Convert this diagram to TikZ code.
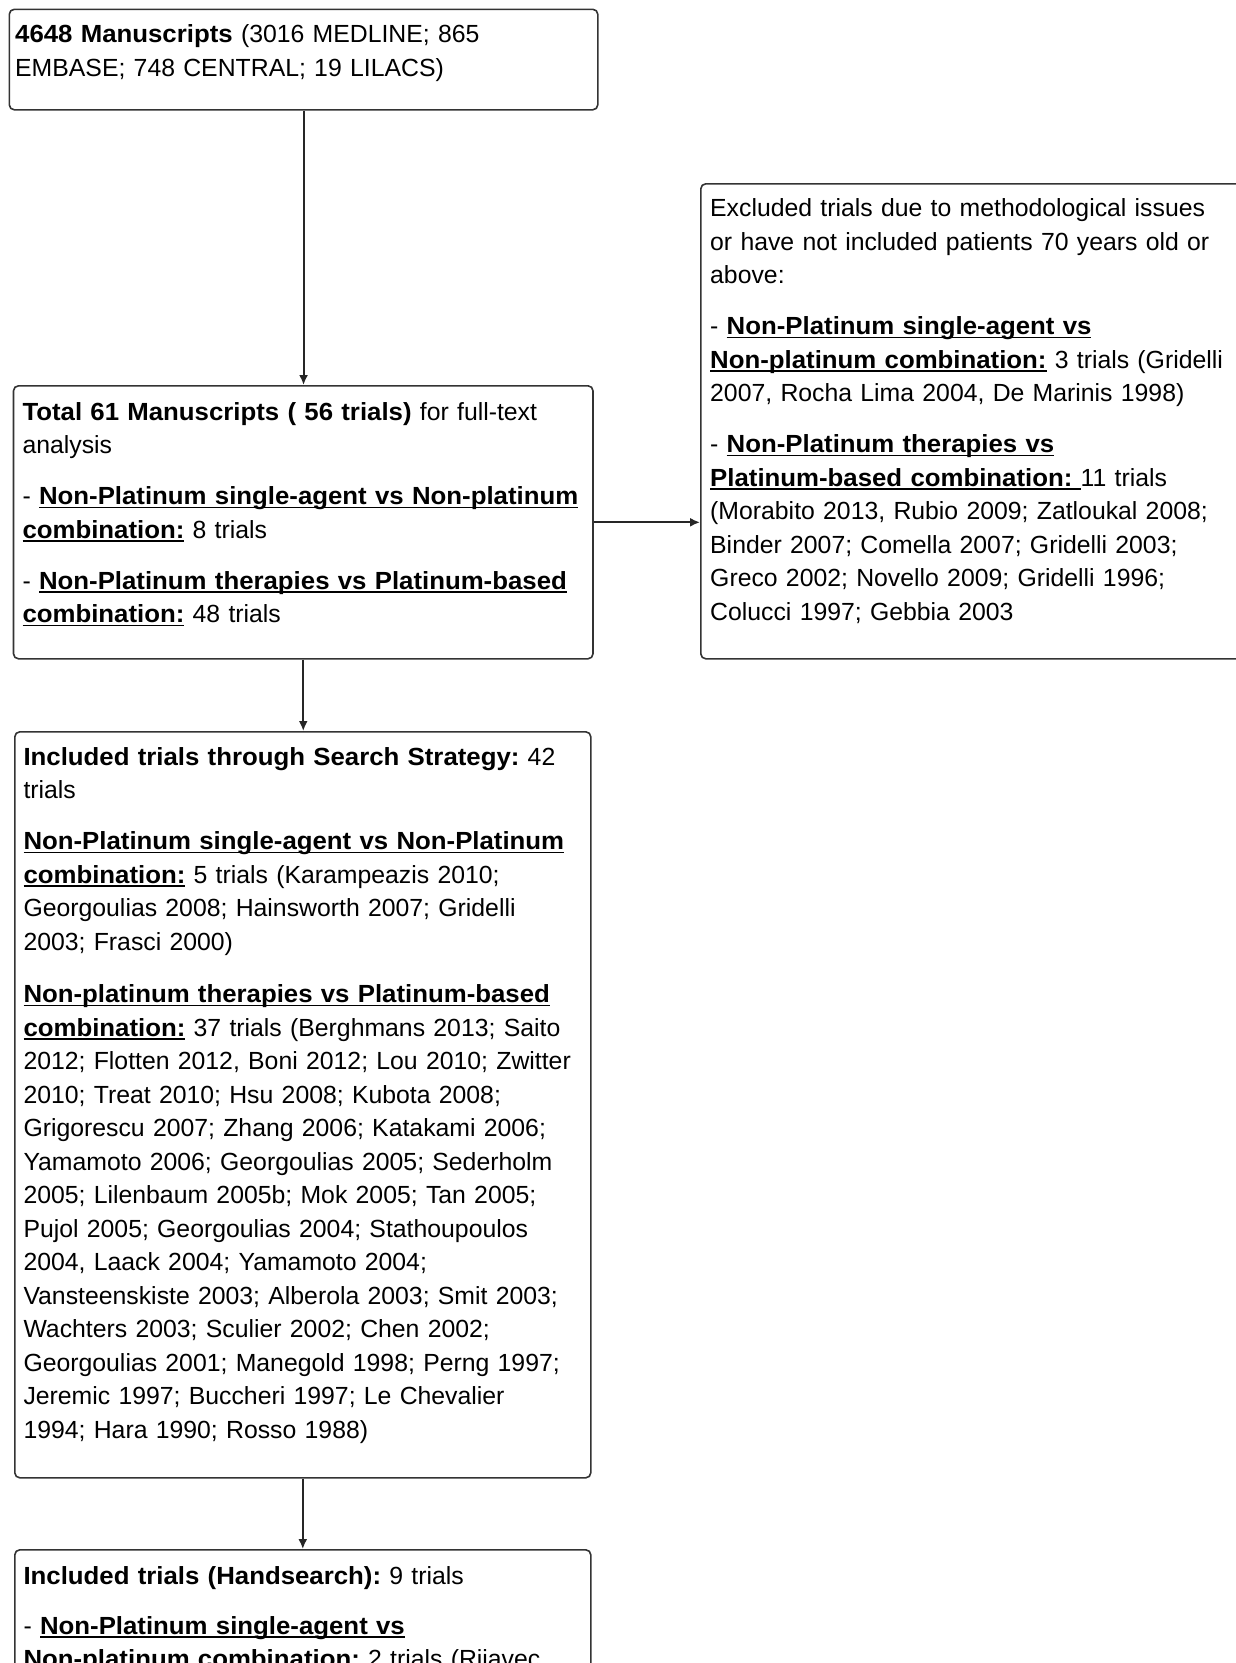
\documentclass[tikz,border=0pt]{standalone}
\usepackage{fontspec}
\setmainfont{Liberation Sans}[BoldFeatures={FakeStretch=1.04}]
\usetikzlibrary{arrows.meta}
\frenchspacing
\newsavebox\ulbbox
\newcommand\ulb[1]{\leavevmode\sbox\ulbbox{\bfseries #1}\rlap{\rule[-3.5pt]{\wd\ulbbox}{1.5pt}}\usebox\ulbbox}
\begin{document}
\begin{tikzpicture}[x=1pt,y=-1pt,
  box/.style={draw=black!80, line width=1.6pt, rounded corners=5pt, inner sep=0pt, anchor=north west},
  txt/.style={anchor=base west, inner sep=0pt, align=left, text width=620pt, font=\frenchspacing\fontsize{24.8}{33.5}\selectfont, text=black},
  arr/.style={draw=black!85, line width=1.9pt, -{Latex[length=10pt,width=9pt]}}]
\useasboundingbox (0,0) rectangle (1236,1663);
% boxes
\node[box, minimum width=588.5pt, minimum height=100.5pt] (b1) at (8.5,8.5) {};
\node[box, minimum width=579.5pt, minimum height=273pt] (b2) at (12.7,385) {};
\node[box, minimum width=560pt, minimum height=475pt] (rb) at (700,183) {};
\node[box, minimum width=576pt, minimum height=746pt] (b3) at (14,731) {};
\node[box, minimum width=576pt, minimum height=300pt] (b4) at (14,1549) {};
% texts
\node[txt] (t1) at (15,42.5) {\textbf{4648 Manuscripts} (3016 MEDLINE; 865\\
EMBASE; 748 CENTRAL; 19 LILACS)};
\node[txt] (t2) at (22.3,420) {\textbf{Total 61 Manuscripts ( 56 trials)} for full-text\\
analysis\\[17.5pt]
- \ulb{Non-Platinum single-agent vs Non-platinum}\\
\ulb{combination:} 8 trials\\[17.5pt]
- \ulb{Non-Platinum therapies vs Platinum-based}\\
\ulb{combination:} 48 trials};
\node[txt] (tr) at (710,216.5) {Excluded trials due to methodological issues\\
or have not included patients 70 years old or\\
above:\\[17.5pt]
- \ulb{Non-Platinum single-agent vs}\\
\ulb{Non-platinum combination:} 3 trials (Gridelli\\
2007, Rocha Lima 2004, De Marinis 1998)\\[17.5pt]
- \ulb{Non-Platinum therapies vs}\\
\ulb{Platinum-based combination:\ }11 trials\\
(Morabito 2013, Rubio 2009; Zatloukal 2008;\\
Binder 2007; Comella 2007; Gridelli 2003;\\
Greco 2002; Novello 2009; Gridelli 1996;\\
Colucci 1997; Gebbia 2003};
\node[txt] (t3) at (23.3,765) {\textbf{Included trials through Search Strategy:} 42\\
trials\\[17.5pt]
\ulb{Non-Platinum single-agent vs Non-Platinum}\\
\ulb{combination:} 5 trials (Karampeazis 2010;\\
Georgoulias 2008; Hainsworth 2007; Gridelli\\
2003; Frasci 2000)\\[19pt]
\ulb{Non-platinum therapies vs Platinum-based}\\
\ulb{combination:} 37 trials (Berghmans 2013; Saito\\
2012; Flotten 2012, Boni 2012; Lou 2010; Zwitter\\
2010; Treat 2010; Hsu 2008; Kubota 2008;\\
Grigorescu 2007; Zhang 2006; Katakami 2006;\\
Yamamoto 2006; Georgoulias 2005; Sederholm\\
2005; Lilenbaum 2005b; Mok 2005; Tan 2005;\\
Pujol 2005; Georgoulias 2004; Stathoupoulos\\
2004, Laack 2004; Yamamoto 2004;\\
Vansteenskiste 2003; Alberola 2003; Smit 2003;\\
Wachters 2003; Sculier 2002; Chen 2002;\\
Georgoulias 2001; Manegold 1998; Perng 1997;\\
Jeremic 1997; Buccheri 1997; Le Chevalier\\
1994; Hara 1990; Rosso 1988)};
\node[txt] (t4) at (23.3,1584) {\textbf{Included trials (Handsearch):} 9 trials\\[16.5pt]
- \ulb{Non-Platinum single-agent vs}\\
\ulb{Non-platinum combination:} 2 trials (Rijavec};
% connectors
\draw[arr] (b1.south) -- (b1.south |- b2.north);
\draw[arr] (b2.east) -- (b2.east -| rb.west);
\draw[arr] (b2.south) -- (b2.south |- b3.north);
\draw[arr] (b3.south) -- (b3.south |- b4.north);
\end{tikzpicture}
\end{document}
